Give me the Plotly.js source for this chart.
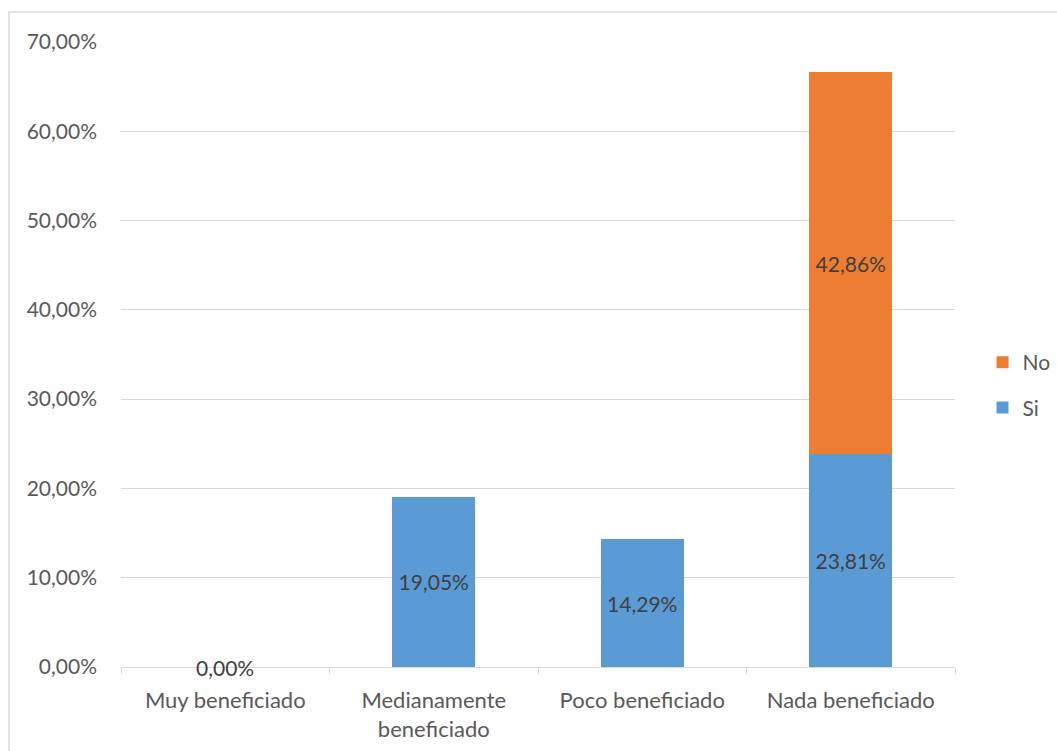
<!DOCTYPE html>
<html>
<head>
<meta charset="utf-8">
<script src="https://cdn.plot.ly/plotly-3.0.1.min.js"></script>
<style>html,body{margin:0;padding:0;background:#fff;}#chart{width:1057px;height:751px;}</style>
</head>
<body>
<div id="chart"></div>
<script>
const categories = ['Muy beneficiado', 'Medianamente<br>beneficiado', 'Poco beneficiado', 'Nada beneficiado'];
const siValues = [0, 19.05, 14.29, 23.81];
const noValues = [null, null, null, 42.86];
const yTicks = [0, 10, 20, 30, 40, 50, 60, 70];

const fmt = v => v.toFixed(2).replace('.', ',') + '%';
const FONT = 'Lato, "Open Sans", sans-serif';
const FS = 21;
const TXT = '#595959';

const siTrace = {
  type: 'bar', name: 'Si', x: categories, y: siValues, legendgroup: 'si', legendrank: 2,
  marker: {color: '#5B9BD5'},
  text: siValues.map(v => v > 0 ? fmt(v) : ''),
  textposition: 'inside', insidetextanchor: 'middle',
  textfont: {family: FONT, size: FS, color: '#404040'},
  hoverinfo: 'none'
};
const noTrace = {
  type: 'bar', name: 'No', x: categories, y: noValues, legendgroup: 'no', legendrank: 1,
  marker: {color: '#ED7D31'},
  text: noValues.map(v => v ? fmt(v) : ''),
  textposition: 'inside', insidetextanchor: 'middle',
  textfont: {family: FONT, size: FS, color: '#404040'},
  hoverinfo: 'none'
};

const annotations = [];
siValues.forEach((v, i) => {
  if (v === 0) {
    annotations.push({x: categories[i], y: v, xref: 'x', yref: 'y', text: fmt(v),
      showarrow: false, yanchor: 'middle', xanchor: 'center',
      font: {family: FONT, size: FS, color: '#404040'}});
  }
});

const layout = {
  width: 1057, height: 751,
  margin: {l: 121, r: 102, t: 42, b: 84, autoexpand: false},
  paper_bgcolor: '#fff', plot_bgcolor: '#fff',
  barmode: 'stack', bargap: 0.6,
  font: {family: FONT, size: FS, color: TXT},
  showlegend: true,
  legend: {x: 1.033, y: 0.451, xanchor: 'left', yanchor: 'middle', traceorder: 'grouped',
    font: {family: FONT, size: FS, color: TXT}, itemwidth: 30, tracegroupgap: 15},
  xaxis: {type: 'category', showline: true, linecolor: '#D9D9D9', linewidth: 1,
    ticks: 'outside', tickson: 'boundaries', ticklen: 6, tickcolor: '#D9D9D9',
    ticklabelstandoff: 14,
    showgrid: false, tickfont: {family: FONT, size: 22, color: TXT}, fixedrange: true},
  yaxis: {range: [0, 70], tickvals: yTicks, ticktext: yTicks.map(t => t.toFixed(2).replace('.', ',') + '%'),
    showgrid: true, gridcolor: '#D9D9D9', gridwidth: 1, zeroline: false, showline: false,
    ticks: '', ticklabelstandoff: 23, tickfont: {family: FONT, size: FS, color: TXT}, fixedrange: true},
  annotations: annotations,
  shapes: [{type: 'rect', xref: 'paper', yref: 'paper', x0: -0.1343, x1: 1.3, y0: -0.3, y1: 1.048,
    line: {color: '#D9D9D9', width: 1.5}, fillcolor: 'rgba(0,0,0,0)', layer: 'below'}]
};

Plotly.newPlot('chart', [siTrace, noTrace], layout, {displayModeBar: false, staticPlot: true});
</script>
</body>
</html>
